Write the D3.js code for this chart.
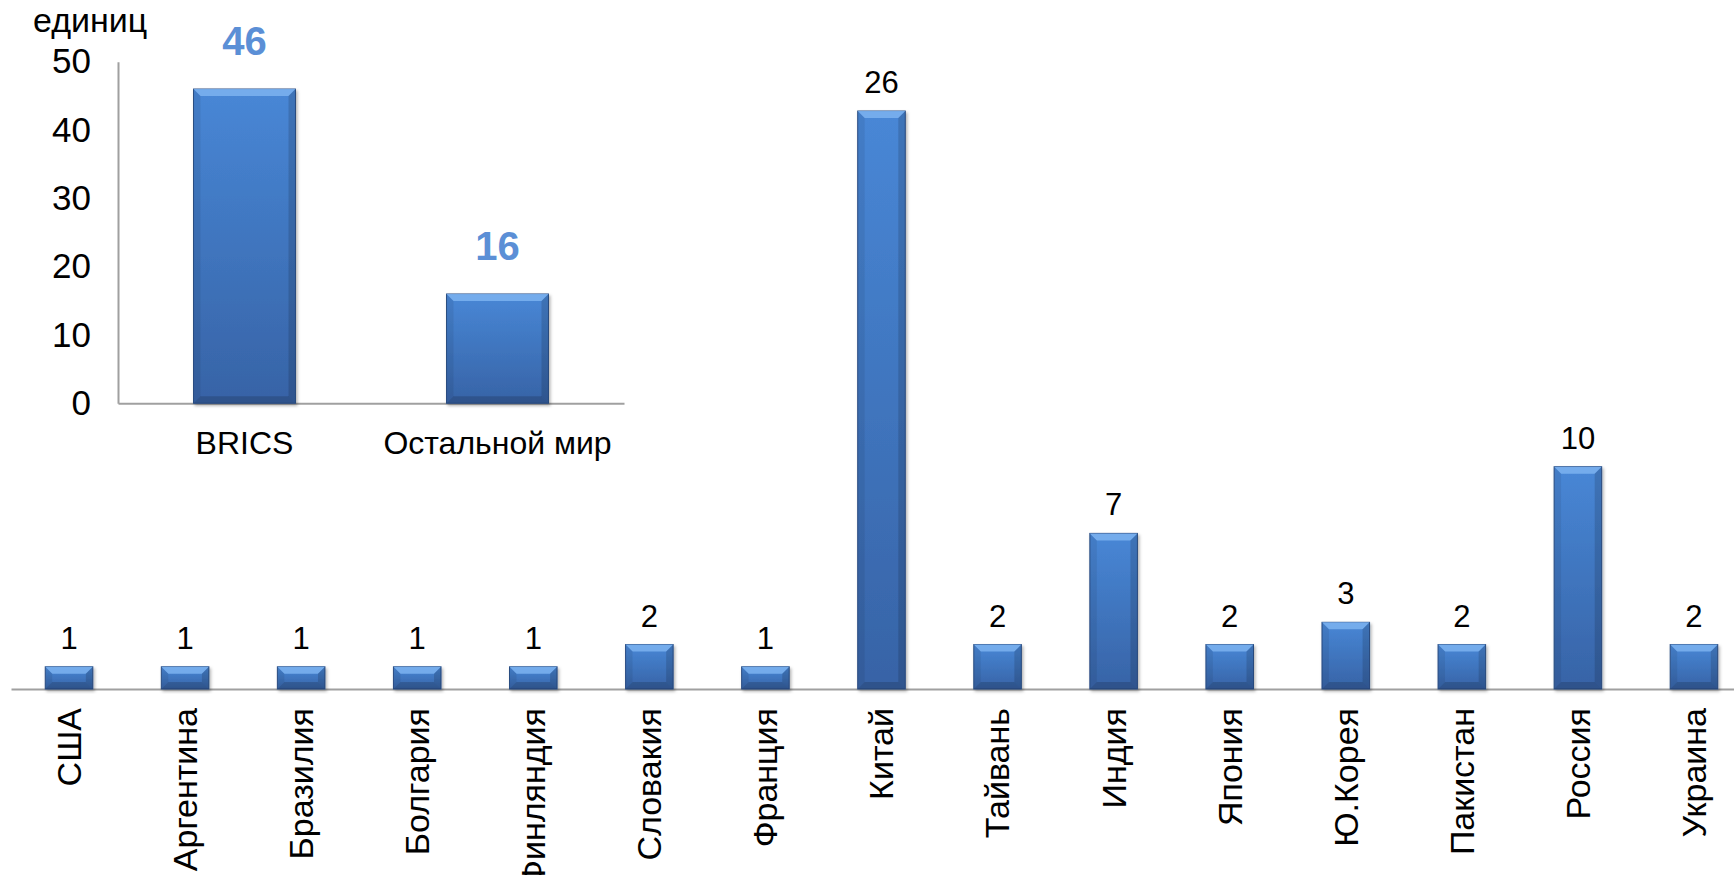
<!DOCTYPE html>
<html>
<head>
<meta charset="utf-8">
<script src="https://cdn.jsdelivr.net/npm/d3@7"></script>
<style>
  html, body { margin: 0; padding: 0; background: #fff; }
  svg { display: block; font-family: "Liberation Sans", Arial, sans-serif; }
</style>
</head>
<body>
<div id="chart"></div>
<script>
// main chart: units by country
const countries = ['США', 'Аргентина', 'Бразилия', 'Болгария', 'Финляндия', 'Словакия', 'Франция',
    'Китай', 'Тайвань', 'Индия', 'Япония', 'Ю.Корея', 'Пакистан', 'Россия', 'Украина']
const units = [1, 1, 1, 1, 1, 2, 1, 26, 2, 7, 2, 3, 2, 10, 2]

// inset chart: BRICS vs rest of world
const groups = ['BRICS', 'Остальной мир']
const groupUnits = [46, 16]
const insetTicks = [0, 10, 20, 30, 40, 50]
const unitLabel = 'единиц'

const W = 1734, H = 875
const translate = (x, y) => 'translate(' + x + ', ' + y + ')'

const svg = d3.select('#chart').append('svg')
    .attr('width', W)
    .attr('height', H)

// gradient + shadow for the bevelled bars
const defs = svg.append('defs')
const grad = defs.append('linearGradient')
    .attr('id', 'barGrad')
    .attr('x1', 0).attr('y1', 0).attr('x2', 0).attr('y2', 1)
grad.append('stop').attr('offset', '0%').attr('stop-color', '#4887d6')
grad.append('stop').attr('offset', '100%').attr('stop-color', '#3763a6')

const shadow = defs.append('filter').attr('id', 'shadow')
    .attr('x', '-20%').attr('y', '-20%').attr('width', '140%').attr('height', '140%')
shadow.append('feDropShadow')
    .attr('dx', 1.5).attr('dy', 2).attr('stdDeviation', 1.5)
    .attr('flood-color', '#000').attr('flood-opacity', 0.3)

const drawBars = (g, data, x, y) => {
    const bars = g.selectAll('g.bar')
        .data(data)
        .enter()
        .append('g')
        .attr('class', 'bar')
    bars.each(function(d) {
        const x0 = x(d.key), x1 = x0 + x.bandwidth()
        const y0 = y(d.value), y1 = y(0)
        const b = Math.min(7, (y1 - y0) / 2)
        const el = d3.select(this)
        el.append('rect')
            .attr('x', x0).attr('y', y0)
            .attr('width', x1 - x0).attr('height', y1 - y0)
            .attr('fill', 'url(#barGrad)')
            .attr('stroke', '#2c4f86')
            .attr('stroke-width', 1)
            .attr('filter', 'url(#shadow)')
        // top bevel
        el.append('polygon')
            .attr('points', [[x0, y0], [x1, y0], [x1 - b, y0 + b], [x0 + b, y0 + b]].join(' '))
            .attr('fill', '#7db3f0').attr('opacity', 0.85)
        // side bevels
        el.append('polygon')
            .attr('points', [[x0, y0], [x0 + b, y0 + b], [x0 + b, y1 - b], [x0, y1]].join(' '))
            .attr('fill', '#000').attr('opacity', 0.07)
        el.append('polygon')
            .attr('points', [[x1, y0], [x1 - b, y0 + b], [x1 - b, y1 - b], [x1, y1]].join(' '))
            .attr('fill', '#000').attr('opacity', 0.14)
        el.append('polygon')
            .attr('points', [[x0, y1], [x0 + b, y1 - b], [x1 - b, y1 - b], [x1, y1]].join(' '))
            .attr('fill', '#000').attr('opacity', 0.16)
    })
}

// ---------- main chart ----------
const x = d3.scaleBand()
    .domain(countries)
    .range([11, 1752])
    .paddingInner(0.59)
    .paddingOuter(0.295)
const y = d3.scaleLinear()
    .domain([0, 26])
    .range([689, 111])

const mainData = countries.map((c, i) => ({ key: c, value: units[i] }))

const xAxis = svg.append('g')
    .attr('transform', translate(0, y(0)))
    .call(d3.axisBottom(x).tickSize(0))
xAxis.select('.domain').attr('stroke', '#a0a0a0').attr('stroke-width', 2)
xAxis.selectAll('text')
    .attr('transform', 'rotate(-90)')
    .attr('text-anchor', 'end')
    .attr('x', -19)
    .attr('y', 0)
    .attr('dy', '0.35em')
    .attr('font-size', 34)
    .attr('font-family', '"Liberation Sans", Arial, sans-serif')
    .attr('fill', '#000')

drawBars(svg.append('g'), mainData, x, y)

svg.append('g').selectAll('text')
    .data(mainData)
    .enter()
    .append('text')
    .attr('x', d => x(d.key) + x.bandwidth() / 2)
    .attr('y', d => y(d.value) - 18)
    .attr('text-anchor', 'middle')
    .attr('font-size', 31)
    .attr('fill', '#000')
    .text(d => d.value)

// ---------- inset chart ----------
const xIn = d3.scaleBand()
    .domain(groups)
    .range([118, 624])
    .paddingInner(0.597)
    .paddingOuter(0.2985)
const yIn = d3.scaleLinear()
    .domain([0, 50])
    .range([403.3, 61.7])

const insetData = groups.map((g, i) => ({ key: g, value: groupUnits[i] }))

const yAxisIn = svg.append('g')
    .attr('transform', translate(118, 0))
    .call(d3.axisLeft(yIn).tickValues(insetTicks).tickSize(0).tickPadding(27))
yAxisIn.select('.domain').attr('stroke', '#a0a0a0').attr('stroke-width', 2)
yAxisIn.selectAll('text')
    .attr('font-size', 35)
    .attr('font-family', '"Liberation Sans", Arial, sans-serif')
    .attr('fill', '#000')

const xAxisIn = svg.append('g')
    .attr('transform', translate(0, yIn(0)))
    .call(d3.axisBottom(xIn).tickSize(0).tickPadding(28))
xAxisIn.select('.domain').attr('stroke', '#a0a0a0').attr('stroke-width', 2)
xAxisIn.selectAll('text')
    .attr('font-size', 32)
    .attr('font-family', '"Liberation Sans", Arial, sans-serif')
    .attr('fill', '#000')

drawBars(svg.append('g'), insetData, xIn, yIn)

svg.append('g').selectAll('text')
    .data(insetData)
    .enter()
    .append('text')
    .attr('x', d => xIn(d.key) + xIn.bandwidth() / 2)
    .attr('y', d => yIn(d.value) - 34)
    .attr('text-anchor', 'middle')
    .attr('font-size', 40)
    .attr('font-weight', 'bold')
    .attr('fill', '#5b8fd6')
    .text(d => d.value)

svg.append('text')
    .attr('x', 33)
    .attr('y', 32)
    .attr('font-size', 34)
    .attr('fill', '#000')
    .text(unitLabel)
</script>
</body>
</html>
